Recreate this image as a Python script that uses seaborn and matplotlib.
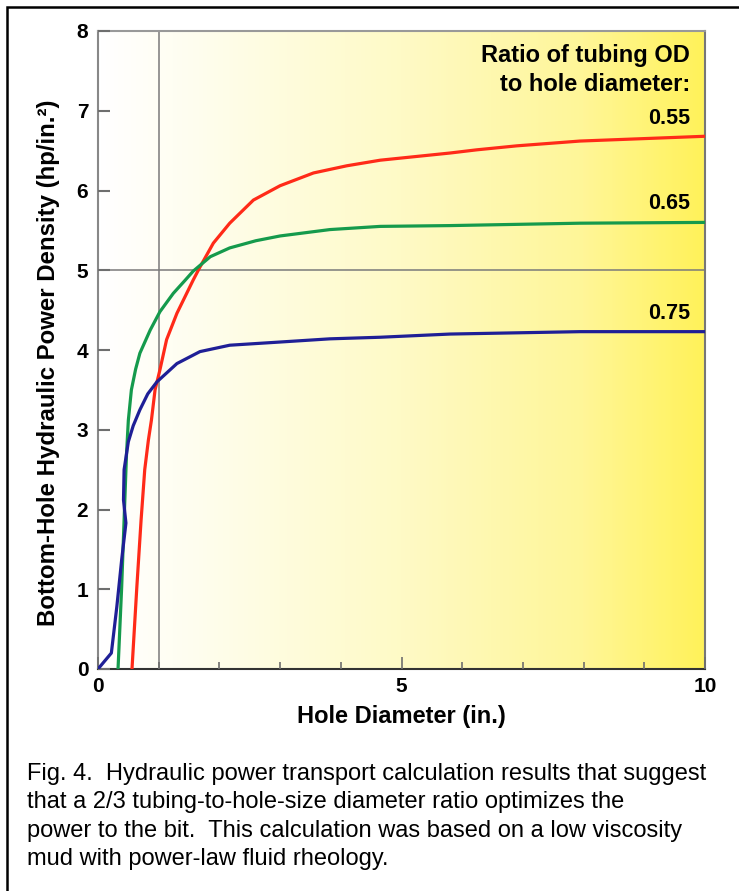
import matplotlib
matplotlib.use("Agg")
import matplotlib.pyplot as plt
from matplotlib.colors import LinearSegmentedColormap
from matplotlib.patches import Rectangle
import numpy as np
import pandas as pd
import seaborn as sns

# values (hole diameter in., power density hp/in.^2)
red_x = [0.56, 0.64, 0.71, 0.77, 0.83, 0.88, 0.94, 1.02, 1.13, 1.30, 1.57, 1.68,
         1.90, 2.17, 2.56, 3.00, 3.55, 4.10, 4.65, 5.80, 6.24, 6.90, 7.94, 10.0]
red_y = [0.00, 1.03, 1.87, 2.50, 2.87, 3.12, 3.50, 3.75, 4.13, 4.46, 4.88, 5.04,
         5.34, 5.59, 5.88, 6.06, 6.22, 6.31, 6.38, 6.47, 6.51, 6.56, 6.62, 6.68]

green_x = [0.33, 0.39, 0.43, 0.47, 0.50, 0.55, 0.62, 0.69, 0.86, 1.02, 1.24, 1.43,
           1.57, 1.85, 2.17, 2.60, 3.00, 3.82, 4.65, 5.80, 7.94, 10.0]
green_y = [0.00, 1.03, 1.87, 2.70, 3.12, 3.50, 3.76, 3.96, 4.25, 4.48, 4.71, 4.87,
           4.99, 5.17, 5.28, 5.37, 5.43, 5.51, 5.55, 5.56, 5.59, 5.60]

blue_x = [0.00, 0.22, 0.31, 0.39, 0.46, 0.42, 0.43, 0.50, 0.58, 0.69, 0.82, 0.97,
          1.30, 1.68, 2.17, 3.00, 3.82, 4.65, 5.80, 7.94, 10.0]
blue_y = [0.00, 0.20, 0.78, 1.37, 1.83, 2.12, 2.50, 2.85, 3.05, 3.25, 3.45, 3.60,
          3.83, 3.98, 4.06, 4.10, 4.14, 4.16, 4.20, 4.23, 4.23]

ratios = ["0.55", "0.65", "0.75"]
colors = {"0.55": "#ff2a18", "0.65": "#159a4c", "0.75": "#1f1f96"}
label_y = [6.90, 5.84, 4.46]

x_major = [0, 5, 10]
x_minor = [1, 2, 3, 4, 6, 7, 8, 9]
y_ticks = [0, 1, 2, 3, 4, 5, 6, 7, 8]

caption = ("Fig. 4.  Hydraulic power transport calculation results that suggest\n"
           "that a 2/3 tubing-to-hole-size diameter ratio optimizes the\n"
           "power to the bit.  This calculation was based on a low viscosity\n"
           "mud with power-law fluid rheology.")

df = pd.concat([
    pd.DataFrame({"diameter": red_x, "density": red_y, "ratio": "0.55"}),
    pd.DataFrame({"diameter": green_x, "density": green_y, "ratio": "0.65"}),
    pd.DataFrame({"diameter": blue_x, "density": blue_y, "ratio": "0.75"}),
], ignore_index=True)

sns.set_theme(style="white")
plt.rcParams["font.family"] = ["Liberation Sans", "DejaVu Sans"]
plt.rcParams.update({
    "text.color": "black", "axes.labelcolor": "black",
    "xtick.color": "#6e6e6e", "ytick.color": "#6e6e6e",
    "xtick.labelcolor": "black", "ytick.labelcolor": "black",
    "xtick.bottom": True, "ytick.left": True,
    "xtick.direction": "in", "ytick.direction": "in",
    "xtick.major.size": 9, "xtick.minor.size": 5, "ytick.major.size": 8.5,
    "xtick.major.width": 1.2, "xtick.minor.width": 1.2, "ytick.major.width": 1.5,
    "xtick.major.pad": 6, "ytick.major.pad": 7,
    "axes.axisbelow": False,
})

fig = plt.figure(figsize=(7.39, 8.91), dpi=100)
ax = fig.add_axes([98 / 739, 1 - 669 / 891, 607 / 739, 638 / 891])

# white-to-yellow background
bg = LinearSegmentedColormap.from_list(
    "bg", [(0, "#ffffff"), (0.12, "#fffef3"), (0.5, "#fefac6"),
           (0.8, "#fff698"), (1.0, "#fff25a")])
ax.imshow(np.linspace(0, 1, 300).reshape(1, -1), extent=[0, 10, 0, 8],
          aspect="auto", cmap=bg, zorder=0)

ax.axvline(1, color="#7a7a7a", lw=1.1, zorder=1)
ax.axhline(5, color="#7a7a7a", lw=1.1, zorder=1)

sns.lineplot(data=df, x="diameter", y="density", hue="ratio", palette=colors,
             sort=False, estimator=None, lw=2.3, legend=False, ax=ax, zorder=3)
for ln in ax.lines[2:]:
    ln.set_solid_joinstyle("round")

ax.set_xlim(0, 10)
ax.set_ylim(0, 8)

ax.set_xticks(x_major, labels=[str(v) for v in x_major], fontsize=15, fontweight="bold")
ax.set_xticks(x_minor, minor=True)
ax.set_yticks(y_ticks, labels=[str(v) for v in y_ticks], fontsize=15, fontweight="bold")
ax.yaxis.set_minor_locator(matplotlib.ticker.NullLocator())

for side, col in [("left", "#888888"), ("bottom", "#333333"),
                  ("top", "#999999"), ("right", "#777777")]:
    ax.spines[side].set_color(col)
    ax.spines[side].set_linewidth(1.5)
    ax.spines[side].set_visible(True)

ax.set_xlabel("Hole Diameter (in.)", fontsize=17, fontweight="bold")
ax.set_ylabel("Bottom-Hole Hydraulic Power Density (hp/in.²)",
              fontsize=17.3, fontweight="bold")
ax.xaxis.set_label_coords(0.5, -0.056)
ax.yaxis.set_label_coords(-0.062, 0.48)

ax.text(9.75, 7.51, "Ratio of tubing OD\nto hole diameter:", ha="right",
        va="center", fontsize=17, fontweight="bold", linespacing=1.32, zorder=4)
for r, yy in zip(ratios, label_y):
    ax.text(9.76, yy, r, ha="right", va="center", fontsize=15.5,
            fontweight="bold", zorder=4)

# outer frame (runs off the right and bottom edges)
fig.add_artist(Rectangle((6.5 / 739, -0.1), 1.2, 1 - 6.5 / 891 + 0.1,
                         transform=fig.transFigure, fill=False,
                         ec="black", lw=1.8))

fig.text(27 / 739, 1 - 763 / 891, caption, fontsize=17, ha="left", va="top",
         linespacing=1.37)

fig.savefig("out.png", dpi=100)
